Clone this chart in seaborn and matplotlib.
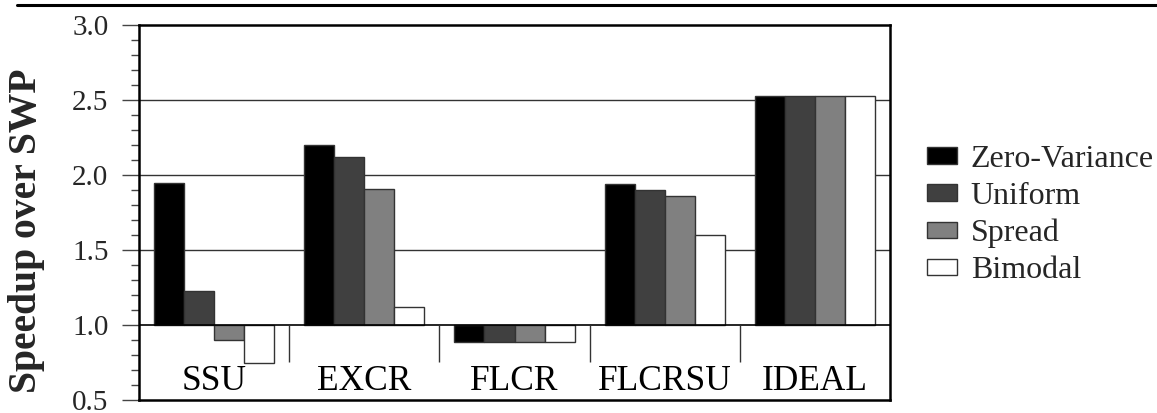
import matplotlib
matplotlib.use("Agg")
import matplotlib.pyplot as plt
import seaborn as sns
import pandas as pd
from matplotlib.patches import Patch
from matplotlib.lines import Line2D
from matplotlib.ticker import MultipleLocator

# Speedup over SWP for each scheme and latency distribution
schemes = ["SSU", "EXCR", "FLCR", "FLCRSU", "IDEAL"]
distributions = ["Zero-Variance", "Uniform", "Spread", "Bimodal"]
zero_variance = [1.95, 2.20, 0.89, 1.94, 2.53]
uniform = [1.23, 2.12, 0.89, 1.90, 2.53]
spread = [0.90, 1.91, 0.89, 1.86, 2.53]
bimodal = [0.75, 1.12, 0.89, 1.60, 2.53]
colors = ["#000000", "#404040", "#808080", "#ffffff"]
baseline = 1.0

rows = []
for dist, vals in zip(distributions, [zero_variance, uniform, spread, bimodal]):
    for s, v in zip(schemes, vals):
        rows.append({"scheme": s, "dist": dist, "speedup": v})
df = pd.DataFrame(rows)
df["delta"] = df["speedup"] - baseline

sns.set_theme(style="white")
plt.rcParams["font.family"] = ["Liberation Serif", "DejaVu Serif"]

fig = plt.figure(figsize=(11.57, 4.13), dpi=100)
ax = fig.add_axes([139 / 1157, 13 / 413, 751 / 1157, 375 / 413])

# horizontal reference lines behind the bars
for yv in [1.5, 2.0, 2.5]:
    ax.axhline(yv, color="#333333", lw=1.0, zorder=0)

sns.barplot(data=df, x="scheme", y="delta", hue="dist", order=schemes,
            hue_order=distributions, palette=dict(zip(distributions, colors)),
            bottom=baseline, width=0.8, errorbar=None, saturation=1,
            edgecolor="#333333", linewidth=1.0, legend=False, ax=ax, zorder=2)

ax.axhline(baseline, color="#000000", lw=1.2, zorder=3)
ax.vlines([0.5, 1.5, 2.5, 3.5], 0.755, baseline, color="#333333", lw=1.0, zorder=3)

ax.set_xlim(-0.5, 4.5)
ax.set_ylim(0.5, 3.0)
ax.set_xlabel("")
ax.set_ylabel("")
ax.set_xticks([])
for i, s in enumerate(schemes):
    ax.text(i, 0.622, s, ha="center", va="center", fontsize=25.5, color="black")

ax.yaxis.set_major_locator(MultipleLocator(0.5))
ax.yaxis.set_minor_locator(MultipleLocator(0.1))
ax.set_yticks([0.5, 1.0, 1.5, 2.0, 2.5, 3.0])
ax.set_yticklabels(["0.5", "1.0", "1.5", "2.0", "2.5", "3.0"])
ax.tick_params(axis="y", which="major", direction="out", length=12, width=1.0,
               color="#444444", labelsize=21, pad=10, left=True)
ax.tick_params(axis="y", which="minor", direction="out", length=5.5, width=1.0,
               color="#444444", left=True)

for sp in ax.spines.values():
    sp.set_visible(True)
    sp.set_color("black")
    sp.set_linewidth(1.8)

fig.text(27 / 1157, 1 - 231 / 413, "Speedup over SWP", rotation=90,
         ha="center", va="center", fontsize=28.5, fontweight="bold")

# rule across the top of the figure
fig.add_artist(Line2D([17 / 1157, 1.0], [1 - 5 / 413, 1 - 5 / 413],
                      transform=fig.transFigure, color="black", lw=2.2))

handles = [Patch(facecolor=c, edgecolor="#333333", linewidth=1.0) for c in colors]
fig.legend(handles, distributions, loc="center left",
           bbox_to_anchor=(905 / 1157, 1 - 215 / 413), frameon=False,
           fontsize=23, handlelength=0.93, handleheight=0.41,
           handletextpad=0.43, labelspacing=0.25, borderpad=0.2)

fig.savefig("out.png", dpi=100)
